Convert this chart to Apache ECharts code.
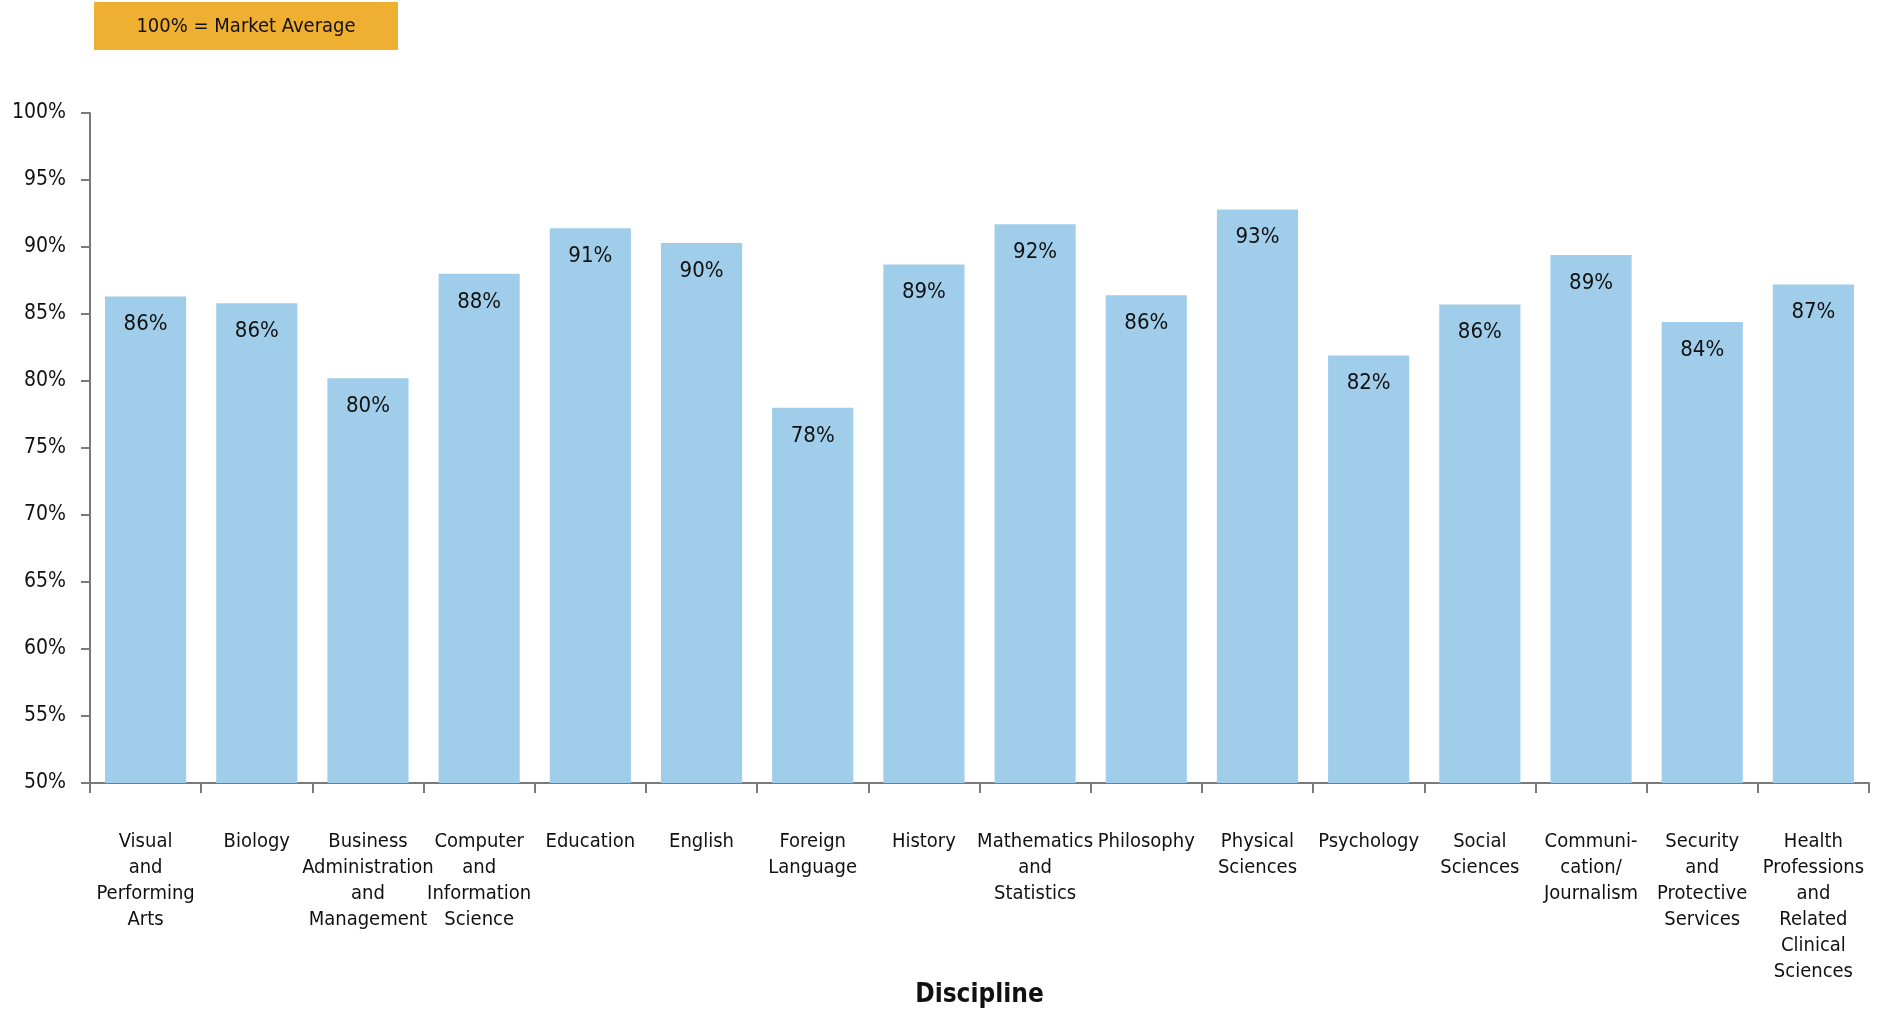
<!DOCTYPE html>
<html>
<head>
<meta charset="utf-8">
<script src="https://cdn.jsdelivr.net/npm/echarts@6/dist/echarts.min.js"></script>
<style>
html,body{margin:0;padding:0;background:#fff;overflow:hidden;}
#chart{width:1886px;height:1015px;}
</style>
</head>
<body>
<div id="chart"></div>
<script>
const categories = [
  'Visual\nand\nPerforming\nArts',
  'Biology',
  'Business\nAdministration\nand\nManagement',
  'Computer\nand\nInformation\nScience',
  'Education',
  'English',
  'Foreign\nLanguage',
  'History',
  'Mathematics\nand\nStatistics',
  'Philosophy',
  'Physical\nSciences',
  'Psychology',
  'Social\nSciences',
  'Communi-\ncation/\nJournalism',
  'Security\nand\nProtective\nServices',
  'Health\nProfessions\nand\nRelated\nClinical\nSciences'
];
const values = [86.3, 85.8, 80.2, 88.0, 91.4, 90.3, 78.0, 88.7, 91.7, 86.4, 92.8, 81.9, 85.7, 89.4, 84.4, 87.2];
const yTicks = { min: 50, max: 100, interval: 5 };
const axisTitle = 'Discipline';
const legendText = '100% = Market Average';

const FONT = '"Liberation Sans Narrow", "DejaVu Sans Condensed", "Arial Narrow", sans-serif';
const chart = echarts.init(document.getElementById('chart'), null, { renderer: 'canvas' });
chart.setOption({
  animation: false,
  backgroundColor: '#ffffff',
  textStyle: { fontFamily: FONT },
  grid: { left: 90, right: 17, top: 113, bottom: 232, containLabel: false, outerBoundsMode: 'none' },
  graphic: [
    {
      type: 'group', left: 94, top: 2,
      children: [
        { type: 'rect', shape: { x: 0, y: 0, width: 304, height: 48 }, style: { fill: '#EFAF31' } },
        { type: 'text', x: 152, y: 25, style: { text: legendText, fontFamily: FONT, fontSize: 20, fill: '#111', align: 'center', verticalAlign: 'middle' } }
      ]
    }
  ],
  xAxis: {
    type: 'category',
    data: categories,
    name: axisTitle,
    nameLocation: 'middle',
    nameGap: 199,
    nameMoveOverlap: false,
    nameTextStyle: { fontFamily: FONT, fontSize: 26, fontWeight: 'bold', color: '#111' },
    axisLine: { lineStyle: { color: '#7a7a7a', width: 2 } },
    axisTick: { show: true, length: 10, lineStyle: { color: '#7a7a7a', width: 2 } },
    axisLabel: { interval: 0, margin: 46, fontFamily: FONT, fontSize: 20, lineHeight: 26, color: '#111', align: 'center' },
    splitLine: { show: false }
  },
  yAxis: {
    type: 'value',
    min: yTicks.min, max: yTicks.max, interval: yTicks.interval,
    axisLine: { show: true, lineStyle: { color: '#7a7a7a', width: 2 } },
    axisTick: { show: true, length: 9, lineStyle: { color: '#7a7a7a', width: 2 } },
    axisLabel: { formatter: '{value}%', margin: 24, fontFamily: FONT, fontSize: 21, color: '#111' },
    splitLine: { show: false }
  },
  series: [{
    type: 'bar',
    data: values,
    barCategoryGap: '27%',
    itemStyle: { color: '#A0CEEA' },
    label: {
      show: true, position: 'insideTop', distance: 17,
      formatter: p => Math.round(p.value) + '%',
      fontFamily: FONT, fontSize: 22, color: '#111'
    }
  }]
});
</script>
</body>
</html>
